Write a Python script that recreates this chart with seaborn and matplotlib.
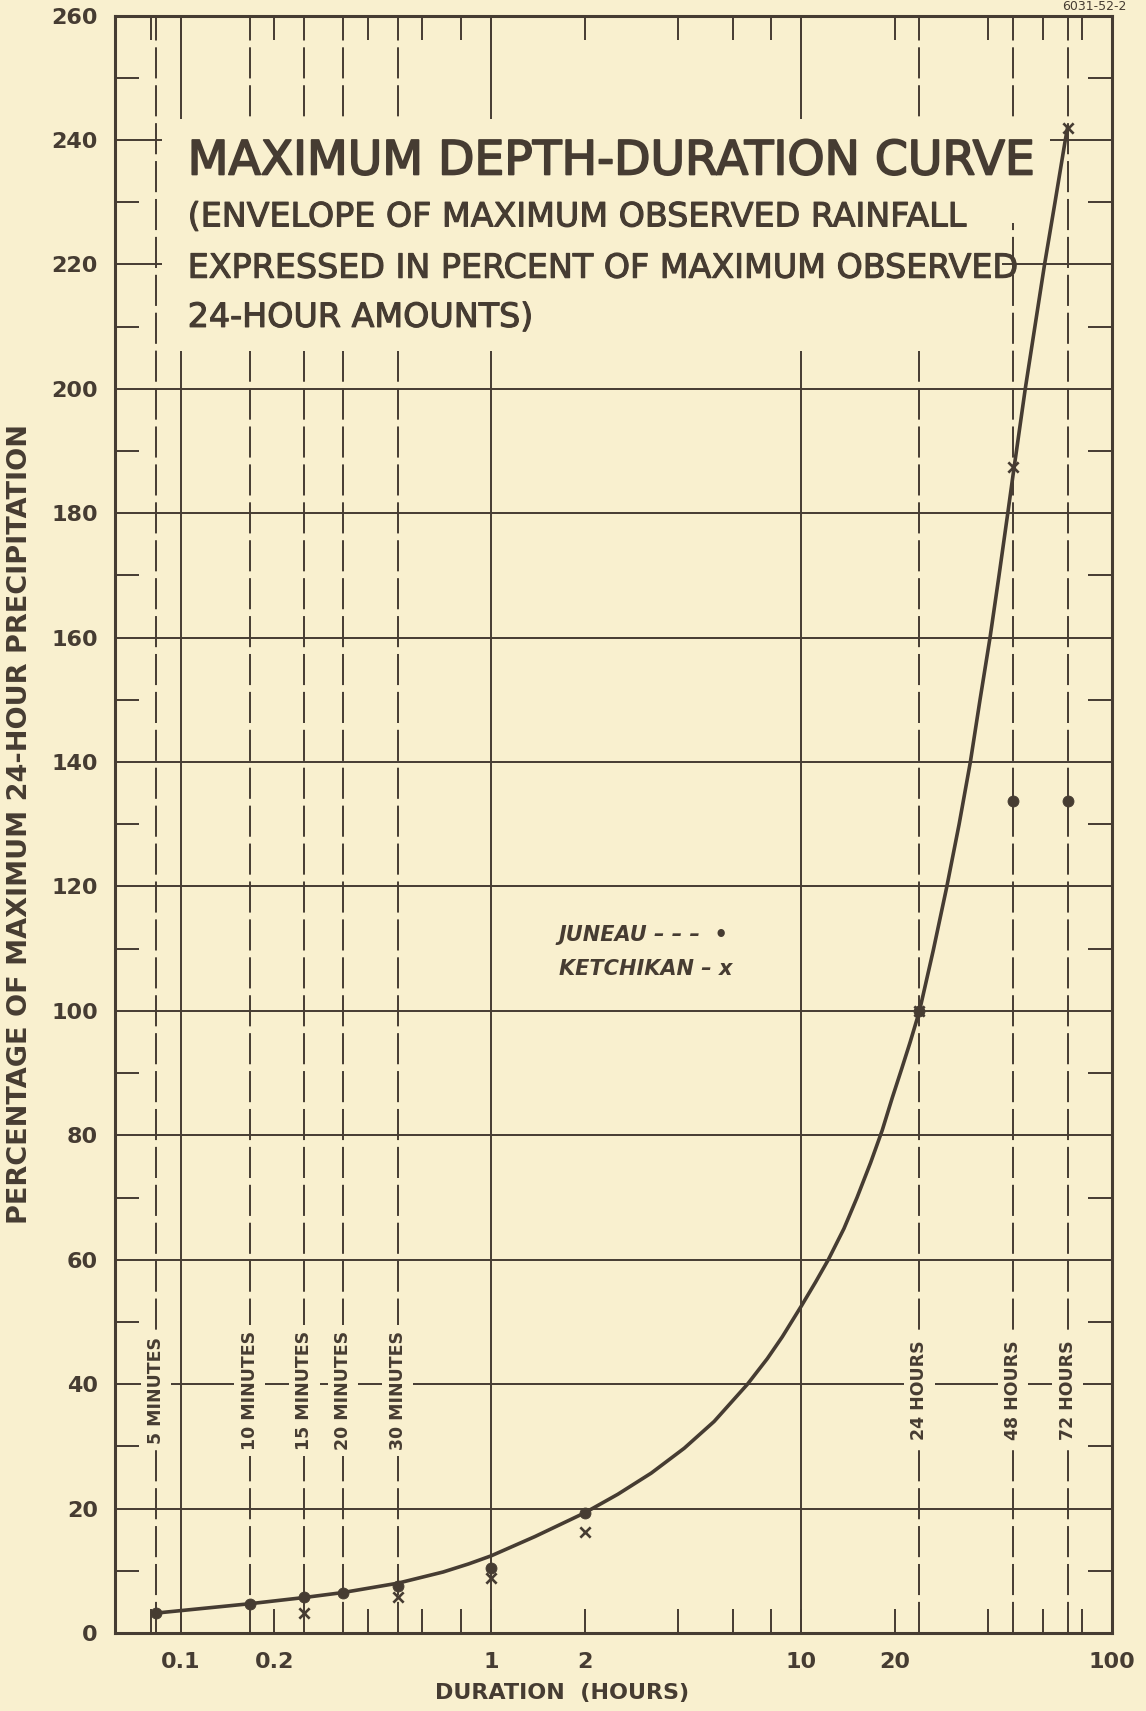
import matplotlib
matplotlib.use('Agg')
import matplotlib.pyplot as plt
import matplotlib.patheffects as pe
from matplotlib.patches import Rectangle
from matplotlib.ticker import FixedLocator, FixedFormatter
import seaborn as sns

# envelope curve (duration in hours, percent of max 24-hr)
curve_hours = [0.0833, 0.1667, 0.25, 0.333, 0.5, 0.7, 0.846, 1.0, 1.384, 2.0,
               2.56, 3.28, 4.19, 5.23, 6.70, 7.76, 8.67, 10.0, 11.1, 12.2,
               13.7, 15.1, 16.7, 18.2, 19.6, 21.0, 22.4, 24.0, 26.6, 29.4,
               32.2, 35.0, 37.6, 40.5, 43.3, 46.2, 48.0, 52.6, 56.5, 60.7,
               65.6, 70.8, 72.0]
curve_pct = [3.2, 4.7, 5.7, 6.5, 8.0, 9.8, 11.1, 12.4, 15.5, 19.3,
             22.3, 25.7, 29.7, 34.0, 40.0, 44.1, 47.6, 52.6, 56.4, 60.0,
             65.0, 70.0, 75.6, 80.8, 86.0, 90.6, 95.0, 100.0, 109.8, 120.0,
             130.0, 140.0, 150.0, 160.0, 170.0, 180.0, 186.0, 200.0, 210.0, 220.0,
             230.0, 240.0, 242.0]

# station observations
juneau_hours = [5/60, 10/60, 15/60, 20/60, 30/60, 1, 2, 24, 48, 72]
juneau_pct = [3.2, 4.7, 5.8, 6.4, 7.6, 10.4, 19.3, 100.0, 133.7, 133.7]
ketchikan_hours = [15/60, 30/60, 1, 2, 24, 48, 72]
ketchikan_pct = [3.2, 5.8, 8.8, 16.2, 100.0, 187.5, 242.0]

# dashed reference durations
duration_marks = [5/60, 10/60, 15/60, 20/60, 30/60, 24, 48, 72]
duration_labels = ['5 MINUTES', '10 MINUTES', '15 MINUTES', '20 MINUTES',
                   '30 MINUTES', '24 HOURS', '48 HOURS', '72 HOURS']

x_ticks = [0.1, 0.2, 1, 2, 10, 20, 100]
x_ticklabels = ['0.1', '0.2', '1', '2', '10', '20', '100']
x_minor = [0.08, 0.4, 0.6, 0.8, 4, 6, 8, 40, 60, 80]
x_grid = [0.1, 1, 10]
y_ticks = list(range(0, 261, 20))
y_minor = list(range(10, 260, 20))

ink = '#463c32'
paper = '#f9f0cf'

sns.set_theme(style='white')
plt.rcParams['font.family'] = ['DejaVu Sans']
plt.rcParams['text.color'] = ink
plt.rcParams['xtick.color'] = ink
plt.rcParams['ytick.color'] = ink

fig = plt.figure(figsize=(11.46, 17.11), dpi=100, facecolor=paper)
ax = fig.add_axes([0.1, 0.0456, 0.8702, 0.9453])
ax.set_facecolor(paper)
ax.set_xscale('log')

# grid
ax.set_axisbelow(True)
ax.grid(axis='y', which='major', color=ink, lw=1.4)
for gx in x_grid:
    ax.axvline(gx, color=ink, lw=1.4, zorder=1)
for h in duration_marks:
    ax.axvline(h, color=ink, lw=1.4, dashes=(16, 3.5), zorder=1.2)

# blank area behind the title block
ax.add_patch(Rectangle((0.0471, 0.8718), 0.938 - 0.0471, 0.9359 - 0.8718,
                       transform=ax.transAxes, facecolor=paper, edgecolor='none', zorder=2))
ax.add_patch(Rectangle((0.0471, 0.7929), 0.8898 - 0.0471, 0.9359 - 0.7929,
                       transform=ax.transAxes, facecolor=paper, edgecolor='none', zorder=2))

# curve and points
sns.lineplot(x=curve_hours, y=curve_pct, ax=ax, color=ink, lw=2.6,
             sort=False, estimator=None, zorder=4)
sns.scatterplot(x=juneau_hours, y=juneau_pct, ax=ax, color=ink, s=62,
                marker='o', edgecolor=ink, zorder=5)
sns.scatterplot(x=ketchikan_hours, y=ketchikan_pct, ax=ax, color=ink, s=55,
                marker='x', linewidth=1.9, zorder=5)

for h, lab in zip(duration_marks, duration_labels):
    ax.text(h, 39.0, lab, rotation=90, ha='center', va='center', fontsize=12.5,
            fontweight='bold', color=ink, zorder=3,
            bbox=dict(facecolor=paper, edgecolor='none', pad=4.5))

# title block
thick = [pe.withStroke(linewidth=1.3, foreground=ink)]
ax.text(0.0733, 0.9095, 'MAXIMUM DEPTH-DURATION CURVE', transform=ax.transAxes,
        fontsize=34, va='center', ha='left', zorder=3, path_effects=thick)
subtitle = ['(ENVELOPE OF MAXIMUM OBSERVED RAINFALL',
            'EXPRESSED IN PERCENT OF MAXIMUM OBSERVED',
            '24-HOUR AMOUNTS)']
for yy, line in zip([0.8755, 0.8438, 0.8134], subtitle):
    ax.text(0.0733, yy, line, transform=ax.transAxes, fontsize=24,
            va='center', ha='left', zorder=3,
            path_effects=[pe.withStroke(linewidth=0.8, foreground=ink)])

# legend written as text
ax.text(0.4454, 0.4318, 'JUNEAU – – –  •', transform=ax.transAxes, fontsize=15,
        fontweight='bold', style='italic', va='center', ha='left', zorder=3)
ax.text(0.4454, 0.4103, 'KETCHIKAN – x', transform=ax.transAxes, fontsize=15,
        fontweight='bold', style='italic', va='center', ha='left', zorder=3)

# axes
ax.set_xlim(0.0612, 100)
ax.set_ylim(0, 260)
ax.xaxis.set_major_locator(FixedLocator(x_ticks))
ax.xaxis.set_major_formatter(FixedFormatter(x_ticklabels))
ax.xaxis.set_minor_locator(FixedLocator(x_minor))
ax.xaxis.set_minor_formatter(FixedFormatter([''] * len(x_minor)))
ax.yaxis.set_major_locator(FixedLocator(y_ticks))
ax.yaxis.set_minor_locator(FixedLocator(y_minor))
ax.tick_params(axis='x', which='both', direction='in', top=True, bottom=True,
               length=17, width=1.4, color=ink, pad=14, labelsize=16)
ax.tick_params(axis='y', which='major', length=0, pad=12, labelsize=16)
ax.tick_params(axis='y', which='minor', direction='in', left=True, right=True,
               length=17, width=1.4, color=ink)
for lab in ax.get_xticklabels() + ax.get_yticklabels():
    lab.set_fontweight('bold')
for sp in ax.spines.values():
    sp.set_visible(True)
    sp.set_color(ink)
    sp.set_linewidth(2.2)
ax.set_xlabel('')
ax.set_ylabel('')

fig.text(0.0171, 0.5185, 'PERCENTAGE OF MAXIMUM 24-HOUR PRECIPITATION', rotation=90,
         ha='center', va='center', fontsize=19.5, fontweight='bold', color=ink)
fig.text(0.4905, 0.0105, 'DURATION  (HOURS)', ha='center', va='center',
         fontsize=16, fontweight='bold', color=ink)
fig.text(0.955, 0.9962, '6031-52-2', ha='center', va='center', fontsize=9, color=ink)

fig.savefig('out.png', dpi=100, facecolor=paper)
